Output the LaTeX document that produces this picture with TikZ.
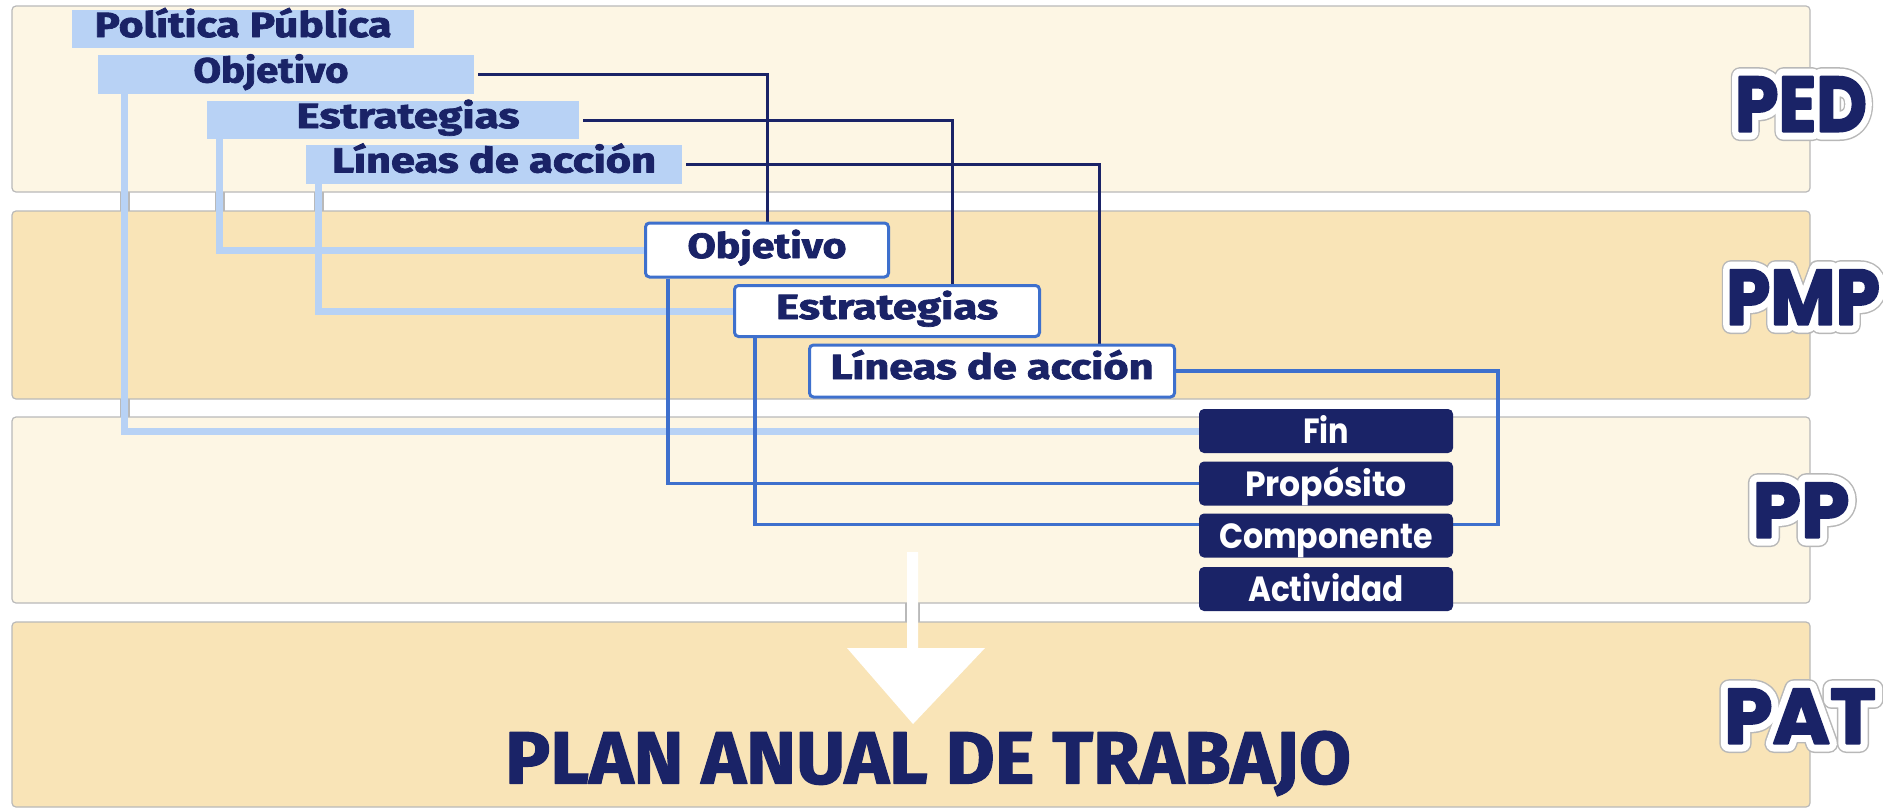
\documentclass[tikz,border=0pt]{standalone}
\usepackage{fontspec}
\setmainfont{Fira Sans}
\newfontfamily\popfont{Poppins}
\definecolor{cream}{RGB}{253,246,228}
\definecolor{sand}{RGB}{249,228,183}
\definecolor{lblue}{RGB}{184,210,245}
\definecolor{mblue}{RGB}{62,112,205}
\definecolor{navy}{RGB}{26,35,103}
\definecolor{edgegray}{RGB}{185,185,185}
\newbox\wfitbox
\newcommand\wfit[2]{\setbox\wfitbox\hbox{#2}\pgfmathsetmacro\wfitr{#1*0.5/\the\wd\wfitbox}\scalebox{\wfitr}[1]{\box\wfitbox}}
% stroked outline of a text in a given colour (r g b) and width
\newcommand\rimtext[3]{\special{pdf:literal direct #1 RG 1 j #2 w 1 Tr}#3\special{pdf:literal direct 0 Tr}}
% slightly heavier letters: fill and stroke in the text colour
\newcommand\heavy[2]{\special{pdf:literal direct 1 j #1 w 2 Tr}#2\special{pdf:literal direct 0 Tr}}
\pgfdeclarelayer{bg}
\pgfdeclarelayer{lines}
\pgfsetlayers{bg,lines,main}
\tikzset{
  band/.style={draw=edgegray, line width=0.6pt, rounded corners=2pt},
  gapedge/.style={draw=edgegray, line width=4.6pt},
  pedbox/.style={fill=lblue, inner sep=0pt, text=navy, text height=12pt, text depth=4pt,
    font=\bfseries\fontsize{17.5pt}{20pt}\selectfont},
  pmpbox/.style={fill=white, draw=mblue, line width=1.5pt, rounded corners=2pt, inner sep=0pt,
    text=navy, text height=12pt, text depth=4pt, font=\bfseries\fontsize{17.5pt}{20pt}\selectfont},
  ppbox/.style={fill=navy, rounded corners=2.5pt, inner sep=0pt, text=white,
    minimum width=127pt, minimum height=22pt, text height=12.5pt, text depth=0pt,
    font=\popfont\bfseries\fontsize{17.5pt}{20pt}\selectfont},
  lab/.style={inner sep=0pt, text height=27.5pt, text depth=0pt,
    font=\popfont\bfseries\fontsize{39pt}{40pt}\selectfont},
  lbline/.style={draw=lblue, line width=3.5pt},
  nvline/.style={draw=navy, line width=1.5pt},
  mbline/.style={draw=mblue, line width=1.75pt},
}
\newcommand\sidelabel[4]{% name, x, y, width, text
}
\begin{document}
\begin{tikzpicture}[x=0.5pt,y=-0.5pt]
\useasboundingbox (0,0) rectangle (1883,809);
\begin{pgfonlayer}{bg}
\fill[white] (0,0) rectangle (1883,809);
\draw[band,fill=cream] (12,6) rectangle (1810,192);
\draw[band,fill=sand] (12,211) rectangle (1810,399);
\draw[band,fill=cream] (12,417) rectangle (1810,603);
\draw[band,fill=sand] (12,622) rectangle (1810,807);
% gap edges of the thick light lines
\draw[gapedge] (125,192) -- (125,211);
\draw[gapedge] (125,399) -- (125,417);
\draw[gapedge] (220,192) -- (220,211);
\draw[gapedge] (319,192) -- (319,211);
% big arrow
\draw[edgegray, line width=0.6pt] (906,603) -- (906,622) (919,603) -- (919,622);
\fill[white] (907,552) -- (918,552) -- (918,648) -- (985,648) -- (913,724) -- (847,648) -- (907,648) -- cycle;
\end{pgfonlayer}

% PED boxes
\node[pedbox, minimum width=171pt, minimum height=19pt] (pol) at (243,29) {\wfit{297}{\heavy{0.35}{Política Pública}}};
\node[pedbox, minimum width=188pt, minimum height=19.5pt] (pedobj) at (286,74.5) {\wfit{155}{\heavy{0.35}{Objetivo}}\hspace*{15pt}};
\node[pedbox, minimum width=186pt, minimum height=19pt] (pedest) at (393,120) {\hspace*{15pt}\wfit{223}{\heavy{0.35}{Estrategias}}};
\node[pedbox, minimum width=188pt, minimum height=19.5pt] (pedlin) at (494,164.5) {\wfit{324}{\heavy{0.35}{Líneas de acción}}};

% PMP boxes
\node[pmpbox, minimum width=121.5pt, minimum height=27pt] (pmpobj) at (767,250) {\wfit{159}{\heavy{0.35}{Objetivo}}};
\node[pmpbox, minimum width=152.5pt, minimum height=25.5pt] (pmpest) at (887,311) {\wfit{222}{\heavy{0.35}{Estrategias}}};
\node[pmpbox, minimum width=182.5pt, minimum height=26pt] (pmplin) at (992,371) {\wfit{323}{\heavy{0.35}{Líneas de acción}}};

% PP boxes
\node[ppbox] (fin) at (1326,431) {\wfit{46}{Fin}};
\node[ppbox] (prop) at (1326,483.5) {\wfit{162}{Propósito}};
\node[ppbox] (comp) at (1326,535.5) {\wfit{214}{Componente}};
\node[ppbox] (act) at (1326,589) {\wfit{156}{Actividad}};

% side labels: grey edge, white rim, then the navy letters
\node[lab, text=edgegray] (pedgr) at (1801,104) {\wfit{132}{\rimtext{0.72 0.72 0.72}{9.5}{PED}}};
\node[lab, text=white] (pedrim) at (1801,104) {\wfit{132}{\rimtext{1 1 1}{8}{PED}}};
\node[lab, text=navy] (ped) at (1801,104) {\wfit{132}{\heavy{1}{PED}}};
\node[lab, text=edgegray] (pmpgr) at (1803,297) {\wfit{154}{\rimtext{0.72 0.72 0.72}{9.5}{PMP}}};
\node[lab, text=white] (pmprim) at (1803,297) {\wfit{154}{\rimtext{1 1 1}{8}{PMP}}};
\node[lab, text=navy] (pmp) at (1803,297) {\wfit{154}{\heavy{1}{PMP}}};
\node[lab, text=edgegray] (ppgr) at (1801,510) {\wfit{97}{\rimtext{0.72 0.72 0.72}{9.5}{PP}}};
\node[lab, text=white] (pprim) at (1801,510) {\wfit{97}{\rimtext{1 1 1}{8}{PP}}};
\node[lab, text=navy] (pp) at (1801,510) {\wfit{97}{\heavy{1}{PP}}};
\node[lab, text=edgegray] (patgr) at (1800,716) {\wfit{152}{\rimtext{0.72 0.72 0.72}{9.5}{PAT}}};
\node[lab, text=white] (patrim) at (1800,716) {\wfit{152}{\rimtext{1 1 1}{8}{PAT}}};
\node[lab, text=navy] (patl) at (1800,716) {\wfit{152}{\heavy{1}{PAT}}};

% Plan anual
\node[inner sep=0pt, text=navy, text height=25.5pt, text depth=0pt,
  font=\bfseries\fontsize{37pt}{38pt}\selectfont] (plan) at (928,758) {\wfit{846}{\heavy{0.6}{PLAN ANUAL DE TRABAJO}}};

\coordinate (rx) at (1498,0);
\begin{pgfonlayer}{lines}
% light blue
\draw[lbline] ([xshift=13.5pt]pedobj.south west) |- (fin.west);
\draw[lbline] ([xshift=6.5pt]pedest.south west) |- (pmpobj.west);
\draw[lbline] ([xshift=6.5pt]pedlin.south west) |- (pmpest.west);
% navy
\draw[nvline] ([xshift=2pt]pedobj.east) -| (pmpobj.north);
\draw[nvline] ([xshift=2pt]pedest.east) -| ([xshift=32.5pt]pmpest.north);
\draw[nvline] ([xshift=2pt]pedlin.east) -| ([xshift=53.5pt]pmplin.north);
% medium blue
\draw[mbline] ([xshift=12pt]pmpobj.south west) |- (prop.west);
\draw[mbline] ([xshift=11pt]pmpest.south west) |- ([yshift=5.5pt]comp.west);
\draw[mbline] (pmplin.east) -- (pmplin.east -| rx) |- ([yshift=5.5pt]comp.east);
\end{pgfonlayer}
\end{tikzpicture}
\end{document}
